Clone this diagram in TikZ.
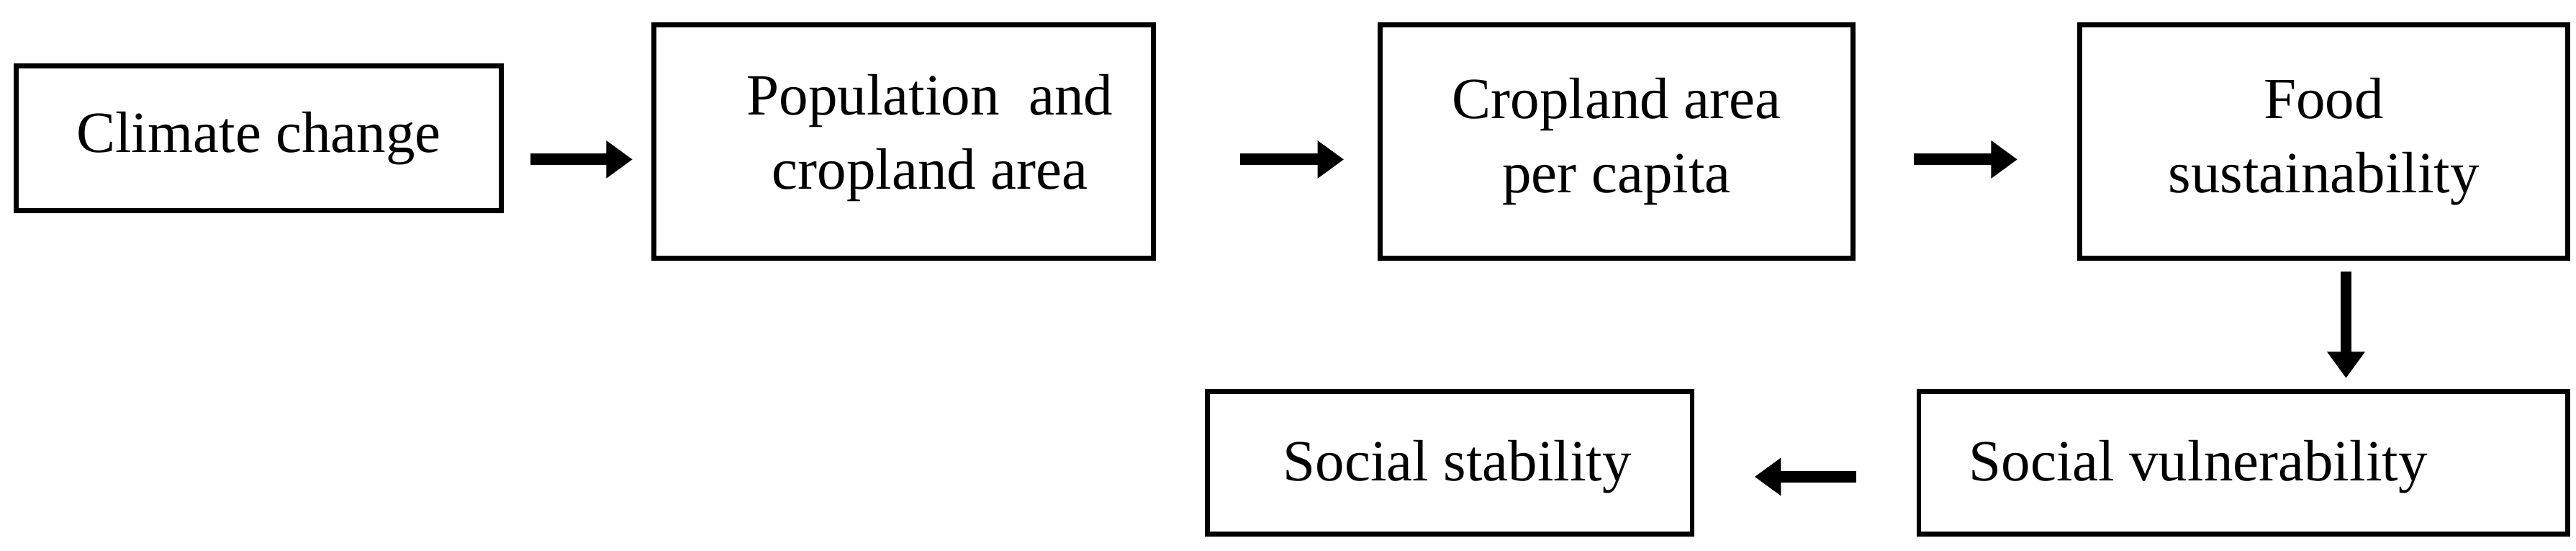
\documentclass[tikz,border=0pt]{standalone}
\usepackage{fontspec}
\setmainfont{Liberation Serif}
\usetikzlibrary{arrows.meta}
\begin{document}
\begin{tikzpicture}[x=1pt,y=-1pt,
  box/.style={draw,line width=3pt,inner sep=0pt,font=\fontsize{35.5}{45}\selectfont,align=center},
  lbl/.style={font=\fontsize{35.5}{45}\selectfont,align=center,inner sep=0pt},
  arr/.style={line width=7pt,-{Triangle[length=16pt,width=22pt]}}]
\useasboundingbox (0,0) rectangle (1568,335);
\node[box,minimum width=295pt,minimum height=88pt] (cc) at (157.5,84) {Climate change};
\node[box,minimum width=304pt,minimum height=142pt] (pop) at (550,86) {};
\node[lbl] (poptext) at (566,84) {Population\ \ and\\cropland area};
\node[box,minimum width=288pt,minimum height=142pt] (cap) at (984,86) {Cropland area\\per capita};
\node[box,minimum width=297pt,minimum height=142pt] (food) at (1414.5,86) {Food\\sustainability};
\node[box,minimum width=395pt,minimum height=87pt] (vul) at (1365.5,281.5) {};
\node[lbl] (vultext) at (1338,284) {Social vulnerability};
\node[box,minimum width=295pt,minimum height=87pt] (stab) at (882.5,281.5) {};
\node[lbl] (stabtext) at (887,284) {Social stability};
\coordinate (a1) at (323,97); \coordinate (b1) at (385,97);
\coordinate (a2) at (755,97); \coordinate (b2) at (818,97);
\coordinate (a3) at (1165,97); \coordinate (b3) at (1228,97);
\coordinate (a4) at (1428,165); \coordinate (b4) at (1428,230);
\coordinate (a5) at (1130,290); \coordinate (b5) at (1068,290);
\draw[arr] (a1) -- (b1);
\draw[arr] (a2) -- (b2);
\draw[arr] (a3) -- (b3);
\draw[arr] (a4) -- (b4);
\draw[arr] (a5) -- (b5);
\end{tikzpicture}
\end{document}
